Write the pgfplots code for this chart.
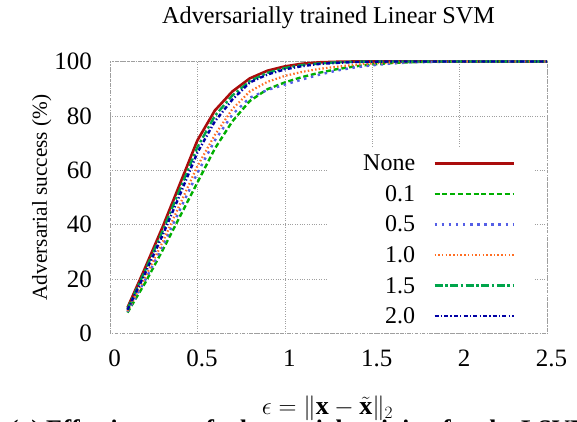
\documentclass[border=0pt]{standalone}
\usepackage{fontspec}
\setmainfont{Liberation Serif}
\usepackage{pgfplots}
\usepackage{pgfplotstable}
\pgfplotsset{compat=1.18}
\definecolor{cnone}{RGB}{170,12,12}
\definecolor{cone}{RGB}{0,175,0}
\definecolor{cfive}{RGB}{85,95,230}
\definecolor{cten}{RGB}{255,110,35}
\definecolor{cfifteen}{RGB}{0,165,75}
\definecolor{ctwenty}{RGB}{0,0,165}
\pgfplotstableread{
x    none   a01    a05    a10    a15    a20
0.1  9.5    7.7    8.0    8.3    9.0    8.7
0.2  24     18.5   19.5   20.5   23     22
0.3  39     30.5   32     33.5   37.5   36
0.4  55     43     45.5   47.5   53     51
0.5  71     55.5   59     61.5   68.5   66.5
0.6  82     68     71     73     80     78
0.7  89     78     80.5   82.5   87.5   86
0.8  93.8   85.5   86.7   89     92.8   92.3
0.9  96.6   89.8   89.5   92.5   95.8   95.2
1.0  98.2   92.3   91.5   94.7   97.6   97.1
1.1  99.2   94.3   93.4   96.2   98.7   98.3
1.2  99.7   95.9   95.2   97.3   99.3   99.1
1.3  99.9   97.2   96.7   98.1   99.7   99.5
1.4  100    98.2   97.8   98.8   99.9   99.8
1.5  100    98.9   98.6   99.3   100    99.9
1.6  100    99.4   99.2   99.6   100    100
1.7  100    99.7   99.6   99.8   100    100
1.8  100    99.85  99.8   99.9   100    100
1.9  100    99.95  99.9   100    100    100
2.0  100    100    100    100    100    100
2.1  100    100    100    100    100    100
2.2  100    100    100    100    100    100
2.3  100    100    100    100    100    100
2.4  100    100    100    100    100    100
2.5  100    100    100    100    100    100
}\datatable
\begin{document}
\begin{tikzpicture}[x=1pt,y=1pt]
\begin{axis}[
  at={(110pt,88.5pt)}, anchor=south west,
  scale only axis, width=437pt, height=272pt,
  xmin=0, xmax=2.5, ymin=0, ymax=100,
  xtick={0,0.5,1,1.5,2,2.5}, ytick={0,20,40,60,80,100},
  grid=major, grid style={gray!75, dotted, line width=0.6pt},
  axis line style={gray!75, dash dot, line width=0.5pt},
  major tick length=0pt,
  clip=false,
  /pgf/number format/assume math mode=true,
  tick label style={font=\fontsize{25}{30}\selectfont, inner sep=0pt},
  xticklabel style={anchor=north, yshift=-16.5pt, xshift=4.5pt},
  yticklabel style={anchor=east, xshift=-18pt},
  title={Adversarially trained Linear SVM},
  every axis title/.style={at={(axis description cs:0.5,1.1379)}, anchor=base, font=\fontsize{24.2}{28}\selectfont},
  xlabel={$\epsilon = \|\mathbf{x}-\tilde{\mathbf{x}}\|_2$},
  every axis x label/.style={at={(axis description cs:0.4977,-0.2996)}, anchor=base, font=\fontsize{26}{30}\selectfont},
  ylabel={Adversarial success (\%)},
  every axis y label/.style={at={(axis description cs:-0.1442,0.5)}, anchor=base, rotate=90, font=\fontsize{21.3}{25}\selectfont},
  legend plot pos=right,
  legend image code/.code={\draw[#1] (0pt,7.4pt) -- (79pt,7.4pt); \path (97pt,0pt);},
  legend style={at={(rel axis cs:0.4966,0.6857)}, anchor=north west, draw=none, fill=white,
    inner xsep=0pt, inner ysep=7pt, row sep=12.9pt, column sep=18pt,
    font=\fontsize{24}{28}\selectfont,
    cells={anchor=base east},
    nodes={inner sep=0pt, text height=16.5pt, text depth=0pt, text width=88pt, align=right}},
]
\addplot[cnone, line width=2.6pt] table[x=x,y=none]{\datatable};
\addlegendentry{None}
\addplot[cone, line width=2.4pt, dash pattern=on 5pt off 2.8pt] table[x=x,y=a01]{\datatable};
\addlegendentry{0.1}
\addplot[cfive, line width=2.4pt, dash pattern=on 2.5pt off 4.6pt] table[x=x,y=a05]{\datatable};
\addlegendentry{0.5}
\addplot[cten, line width=2.2pt, dash pattern=on 1.5pt off 2.2pt] table[x=x,y=a10]{\datatable};
\addlegendentry{1.0}
\addplot[cfifteen, line width=2.4pt, dash pattern=on 8pt off 2.5pt on 2.5pt off 2.6pt] table[x=x,y=a15]{\datatable};
\addlegendentry{1.5}
\addplot[ctwenty, line width=2.4pt, dash pattern=on 4pt off 2.2pt on 1.3pt off 2.2pt] table[x=x,y=a20]{\datatable};
\addlegendentry{2.0}
\end{axis}
\node[anchor=base west, font=\bfseries\fontsize{25.3}{30}\selectfont, inner sep=0pt] at (10pt,-15.3pt) {(a) Effectiveness of adversarial training for the LSVM};
\pgfresetboundingbox
\useasboundingbox (0pt,0pt) rectangle (577pt,422pt);
\end{tikzpicture}
\end{document}
